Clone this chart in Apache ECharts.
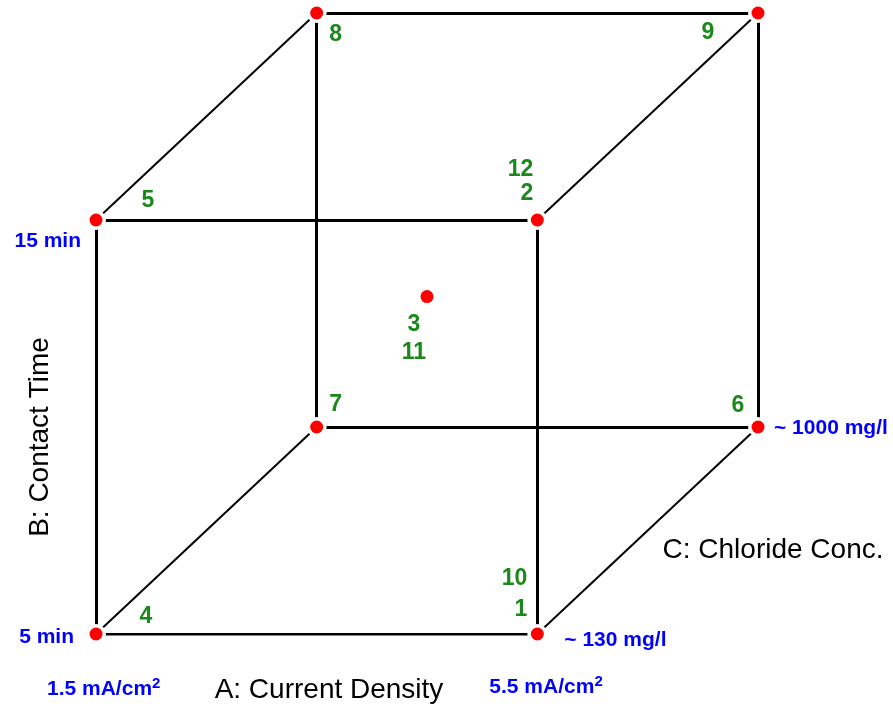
<!DOCTYPE html>
<html>
<head>
<meta charset="utf-8">
<title>Cube design</title>
<script src="https://cdn.jsdelivr.net/npm/echarts@6/dist/echarts.min.js"></script>
<style>
  html, body { margin: 0; padding: 0; background: #fff; }
  #chart { width: 893px; height: 710px; }
</style>
</head>
<body>
<div id="chart"></div>
<script>
// --- 1. data: coded factor levels of each design point ---
// corners of the cube (8) and the centre point
const factorA = [-1, 1, -1, 1, -1, 1, -1, 1, 0]
const factorB = [-1, -1, 1, 1, -1, -1, 1, 1, 0.13]
const factorC = [-1, -1, -1, -1, 1, 1, 1, 1, 0]
const runLabels = ['4', '10\n1', '5', '12\n2', '7', '6', '8', '9', '3\n11']

// level names (low, high)
const levelsA = ['1.5 mA/cm{sup|2}', '5.5 mA/cm{sup|2}']
const levelsB = ['5 min', '15 min']
const levelsC = ['~ 130 mg/l', '~ 1000 mg/l']

const factorNames = ['A: Current Density', 'B: Contact Time', 'C: Chloride Conc.']

// --- 2. styling ---
const FONT = 'Liberation Sans, Arial, sans-serif'
const GREEN = '#1a881a'
const BLUE = '#0000ff'
const DEPTH = 0.5 // oblique projection of the C axis

const project = (i) => [factorA[i] + DEPTH * factorC[i], factorB[i] + DEPTH * factorC[i]]
const points = factorA.map((_, i) => project(i))

// cube edges: corners that differ in exactly one factor (depth edges drawn thinner)
const edges = []
for (let i = 0; i < 8; i++) {
  for (let j = i + 1; j < 8; j++) {
    const diff =
      (factorA[i] !== factorA[j]) + (factorB[i] !== factorB[j]) + (factorC[i] !== factorC[j])
    if (diff === 1) {
      edges.push({
        coords: [points[i], points[j]],
        lineStyle: { width: factorC[i] !== factorC[j] ? 2 : 3 },
      })
    }
  }
}

// where each run label sits next to its dot
const runLabelPos = [
  { offset: [50, -17] },
  { align: 'right', offset: [-10, -40], lineHeight: 31 },
  { offset: [52, -19] },
  { align: 'right', offset: [-4, -38], lineHeight: 24 },
  { offset: [19, -22] },
  { offset: [-20, -21] },
  { offset: [19, 22] },
  { offset: [-50, 20] },
  { offset: [-13, 42], lineHeight: 28 },
]

const runData = points.map((p, i) => ({
  value: p,
  label: Object.assign({ formatter: runLabels[i] }, runLabelPos[i]),
}))

// level labels anchored to cube corners
const levelData = [
  { value: points[0], label: { formatter: levelsA[0], align: 'left', offset: [-49, 55] } },
  { value: points[1], label: { formatter: levelsA[1], align: 'left', offset: [-48, 53] } },
  { value: points[0], label: { formatter: levelsB[0], align: 'right', offset: [-22, 3] } },
  { value: points[2], label: { formatter: levelsB[1], align: 'right', offset: [-15, 21] } },
  { value: points[1], label: { formatter: levelsC[0], align: 'left', offset: [27, 6] } },
  { value: points[5], label: { formatter: levelsC[1], align: 'left', offset: [16, 1] } },
]

const chart = echarts.init(document.getElementById('chart'), null, { renderer: 'canvas' })

const titleStyle = (text) => ({
  text, fill: '#000', font: '28px ' + FONT, textAlign: 'center', textVerticalAlign: 'middle',
})

const option = {
  animation: false,
  backgroundColor: '#fff',
  grid: { left: 96, right: 135, top: 13, bottom: 76 },
  xAxis: { type: 'value', min: -1.5, max: 1.5, show: false },
  yAxis: { type: 'value', min: -1.5, max: 1.5, show: false },
  graphic: [
    { type: 'text', x: 329, y: 690, style: titleStyle(factorNames[0]) },
    { type: 'text', x: 40, y: 437, rotation: Math.PI / 2, style: titleStyle(factorNames[1]) },
    { type: 'text', x: 773, y: 550, style: titleStyle(factorNames[2]) },
  ],
  series: [
    {
      name: 'edges',
      type: 'lines',
      coordinateSystem: 'cartesian2d',
      silent: true,
      z: 1,
      lineStyle: { color: '#000', width: 3, opacity: 1, curveness: 0 },
      data: edges,
    },
    {
      // small white halo so edges stop short of the dots
      name: 'halo',
      type: 'scatter',
      silent: true,
      z: 2,
      symbolSize: 20,
      itemStyle: { color: '#fff', opacity: 1 },
      data: points.slice(0, 8),
    },
    {
      name: 'runs',
      type: 'scatter',
      silent: true,
      z: 3,
      symbolSize: 13,
      itemStyle: { color: '#ff0000', opacity: 1 },
      label: {
        show: true,
        position: 'inside',
        color: GREEN,
        fontFamily: FONT,
        fontWeight: 'bold',
        fontSize: 23,
        align: 'center',
        verticalAlign: 'middle',
      },
      data: runData,
    },
    {
      name: 'levels',
      type: 'scatter',
      silent: true,
      z: 4,
      symbolSize: 1,
      itemStyle: { color: 'rgba(0,0,0,0)', opacity: 1 },
      label: {
        show: true,
        position: 'inside',
        color: BLUE,
        fontFamily: FONT,
        fontWeight: 'bold',
        fontSize: 21,
        lineHeight: 26,
        verticalAlign: 'middle',
        rich: {
          sup: {
            color: BLUE, fontFamily: FONT, fontWeight: 'bold', fontSize: 15,
            verticalAlign: 'top', lineHeight: 26, padding: [0, 0, 8, 0],
          },
        },
      },
      data: levelData,
    },
  ],
}

chart.setOption(option)
window.addEventListener('resize', () => chart.resize())
</script>
</body>
</html>
